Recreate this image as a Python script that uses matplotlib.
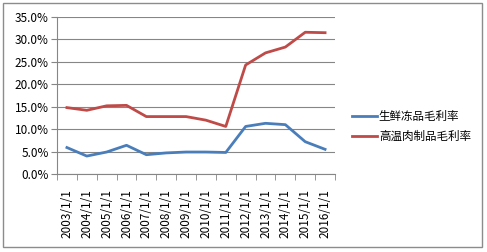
import matplotlib
matplotlib.use("Agg")
import matplotlib.pyplot as plt
from matplotlib.patches import Rectangle
from matplotlib.ticker import FuncFormatter, FixedLocator
import numpy as np

plt.rcParams['font.family'] = ['Noto Sans CJK SC', 'DejaVu Sans']

years = ["2003/1/1", "2004/1/1", "2005/1/1", "2006/1/1", "2007/1/1", "2008/1/1", "2009/1/1",
         "2010/1/1", "2011/1/1", "2012/1/1", "2013/1/1", "2014/1/1", "2015/1/1", "2016/1/1"]
fresh = [5.9, 4.0, 4.9, 6.4, 4.3, 4.7, 4.9, 4.9, 4.8, 10.6, 11.3, 11.0, 7.2, 5.5]
meat = [14.8, 14.2, 15.2, 15.3, 12.8, 12.8, 12.8, 12.0, 10.6, 24.3, 27.0, 28.3, 31.6, 31.5]
series_names = ["生鲜冻品毛利率", "高温肉制品毛利率"]
yticks = [0, 5, 10, 15, 20, 25, 30, 35]

fig = plt.figure(figsize=(4.87, 2.52), dpi=100)
fig.patch.set_facecolor("white")
fig.patches.append(Rectangle((3/487, 5/252), 479/487, 244/252, transform=fig.transFigure,
                             fill=False, edgecolor="#8c8c8c", linewidth=1.0))

ax = fig.add_axes([57/487, (252-174)/252, (335-57)/487, (174-17)/252])
x = np.arange(len(years))
ax.plot(x, fresh, color="#4A7EBB", linewidth=2.0, label=series_names[0])
ax.plot(x, meat, color="#BE4B48", linewidth=2.0, label=series_names[1])

ax.set_xlim(-0.5, len(years) - 0.5)
ax.set_ylim(0, 35)
ax.set_yticks(yticks)
ax.yaxis.set_major_formatter(FuncFormatter(lambda v, p: f"{v:.1f}%"))
ax.grid(axis="y", color="#868686", linewidth=0.8)
ax.set_axisbelow(True)

ax.set_xticks(x)
ax.set_xticklabels(years, rotation=90, fontsize=8.5)
ax.tick_params(axis="x", length=0, pad=11)
ax.xaxis.set_minor_locator(FixedLocator(np.arange(-0.5, len(years), 1.0)))
ax.tick_params(axis="x", which="minor", length=4, color="#868686", direction="out")
ax.tick_params(axis="y", length=4, color="#868686", labelsize=8.5, pad=2)

for s in ["top", "right"]:
    ax.spines[s].set_visible(False)
for s in ["left", "bottom"]:
    ax.spines[s].set_color("#868686")
    ax.spines[s].set_linewidth(0.8)

fig.legend(loc="upper left", bbox_to_anchor=(342/487, 1 - 100/252), frameon=False,
           fontsize=8.3, handlelength=2.1, handletextpad=0.2, labelspacing=0.55)

fig.savefig("out.png", dpi=100)
